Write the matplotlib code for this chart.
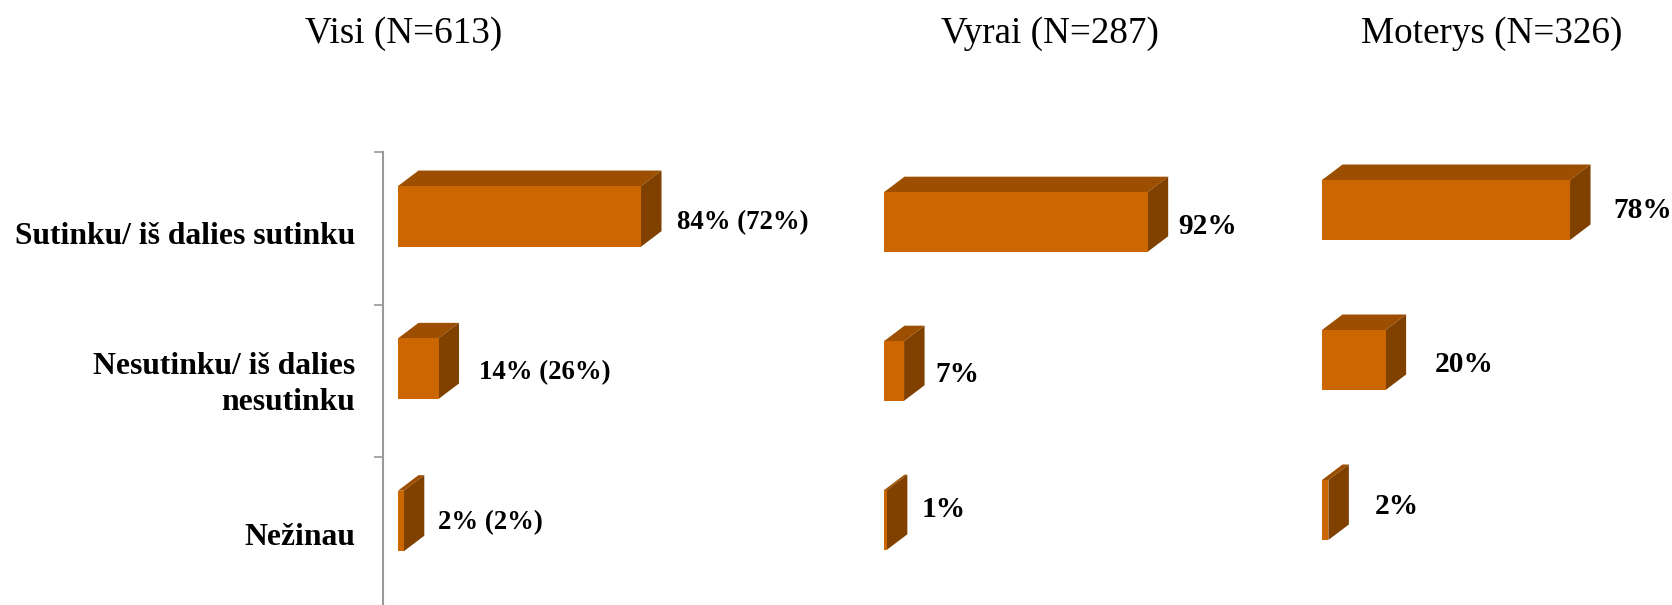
#!/usr/bin/env python3

import matplotlib
matplotlib.use("Agg")
import matplotlib.pyplot as plt
from matplotlib.patches import Polygon

plt.rcParams['font.family'] = ['Liberation Serif', 'DejaVu Serif']

# Data
categories = ["Sutinku/ iš dalies sutinku", "Nesutinku/ iš dalies\nnesutinku", "Nežinau"]
titles = ["Visi (N=613)", "Vyrai (N=287)", "Moterys (N=326)"]
visi = [84, 14, 2]
vyrai = [92, 7, 1]
moterys = [78, 20, 2]
visi_labels = ["84% (72%)", "14% (26%)", "2% (2%)"]
vyrai_labels = ["92%", "7%", "1%"]
moterys_labels = ["78%", "20%", "2%"]

W, H = 1672, 605
FRONT = "#CC6600"
TOP = "#9C4F00"
SIDE = "#804000"
DEPTH_X = 20.5
DEPTH_Y = 15.5
BAR_POS = 0.42

fig = plt.figure(figsize=(W / 100, H / 100), dpi=100)


def make_panel(values, labels, left, top, right, band, zero, scale, gaps, shifts, bar_h, label_size):
    # one axes per group, sized in pixels so 1% matches the reference scale
    ax = fig.add_axes([left / W, 0, (right - left) / W, (H - top) / H])
    ax.set_xlim(-zero / scale, (right - left - zero) / scale)
    ax.set_ylim((H - top) / band, 0)
    dx = DEPTH_X / scale
    dy = DEPTH_Y / band
    for i, v in enumerate(values):
        y = i + BAR_POS
        y0 = y - bar_h / 2
        y1 = y + bar_h / 2
        ax.barh(y, v, height=bar_h, color=FRONT, edgecolor="none", zorder=3)
        ax.add_patch(Polygon([(0, y0), (dx, y0 - dy), (v + dx, y0 - dy), (v, y0)],
                             closed=True, facecolor=TOP, edgecolor="none", zorder=2))
        ax.add_patch(Polygon([(v, y0), (v + dx, y0 - dy), (v + dx, y1 - dy), (v, y1)],
                             closed=True, facecolor=SIDE, edgecolor="none", zorder=2))
        ax.annotate(labels[i], xy=(v, y), xytext=(gaps[i] * 0.72, -shifts[i] * 0.72),
                    textcoords="offset points", ha="left", va="center",
                    fontsize=label_size, fontweight="bold", color="black",
                    annotation_clip=False)
    for s in ("top", "right", "bottom", "left"):
        ax.spines[s].set_visible(False)
    ax.set_xticks([])
    ax.set_yticks([])
    ax.patch.set_alpha(0)
    return ax


ax1 = make_panel(visi, visi_labels, 382.7, 152.4, 860, 152.3, 15.3, 2.893,
                 [36, 40, 34], [6, 3.5, 1.5], 0.398, 19.3)
make_panel(vyrai, vyrai_labels, 884, 159.4, 1300, 149, 0, 2.866,
           [31, 31, 34.5], [5, 4, -10], 0.40, 21.2)
make_panel(moterys, moterys_labels, 1322, 147, 1672, 150, 0, 3.18,
           [43, 49, 46.5], [0, 4, -4], 0.40, 21.2)

# only the first group shows its axis
ax1.spines["left"].set_visible(True)
ax1.spines["left"].set_color("#999999")
ax1.spines["left"].set_linewidth(1.5)
ax1.set_yticks([0, 1, 2])
ax1.set_yticklabels([])
ax1.tick_params(axis="y", direction="out", length=6.3, width=1.2, color="#999999")

for i, c in enumerate(categories):
    ax1.annotate(c, xy=(0, i + [0.55, 0.525, 0.53][i]), xycoords=ax1.get_yaxis_transform(),
                 xytext=(-27.7 * 0.72, 0), textcoords="offset points",
                 ha="right", va="center", fontsize=22.8, fontweight="bold",
                 linespacing=1.3, annotation_clip=False)

for t, cx in zip(titles, [404, 1050, 1492]):
    fig.text(cx / W, 1 - 34 / H, t, ha="center", va="center", fontsize=26.7, color="black")

fig.savefig("out.png", dpi=100, facecolor="white")
